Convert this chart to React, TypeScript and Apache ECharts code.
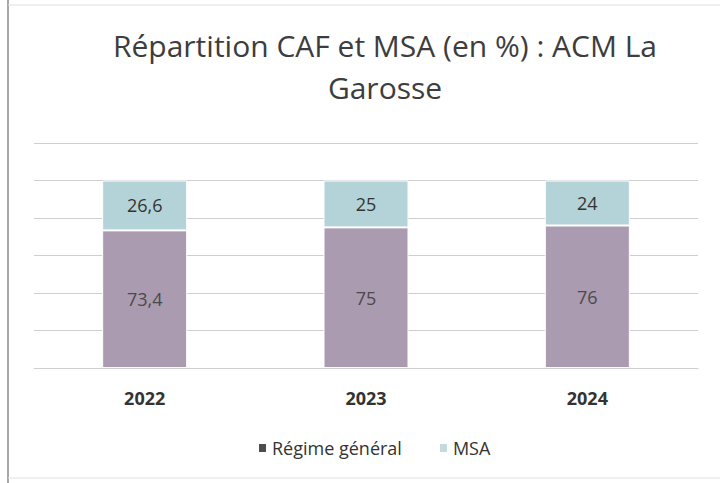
import React, { useEffect, useRef } from "react";
import * as echarts from "echarts";

const categories = ["2022", "2023", "2024"];
const regimeGeneral = [73.4, 75, 76];
const msa = [26.6, 25, 24];
const seriesNames = ["Régime général", "MSA"];
const titleText = "Répartition CAF et MSA (en %) : ACM La\nGarosse";

const fmt = (v: number) => String(v).replace(".", ",");

export default function App() {
  const ref = useRef<HTMLDivElement>(null);
  useEffect(() => {
    document.body.style.margin = "0";
    const chart = echarts.init(ref.current!, null, { renderer: "svg" });
    const font = "'Open Sans', 'Noto Sans', sans-serif";
    chart.setOption({
      animation: false,
      backgroundColor: "#ffffff",
      title: {
        text: titleText,
        left: 380,
        textAlign: "center",
        top: 19,
        textStyle: {
          fontFamily: font,
          fontSize: 30,
          fontWeight: "normal",
          color: "#3d3d3d",
          lineHeight: 42,
        },
      },
      grid: { left: 34, right: 22, top: 143, bottom: 115, containLabel: false },
      legend: {
        data: [
          { name: seriesNames[0], itemStyle: { color: "#4d4d4d" } },
          { name: seriesNames[1], itemStyle: { color: "#c5dadc" } },
        ],
        left: 252,
        top: 434,
        itemWidth: 9,
        itemHeight: 10,
        itemGap: 36,
        icon: "rect",
        textStyle: { fontFamily: font, fontSize: 18, color: "#333333" },
      },
      xAxis: {
        type: "category",
        data: categories,
        axisTick: { show: false },
        axisLine: { show: true, lineStyle: { color: "#cfcfcf" } },
        axisLabel: {
          margin: 21,
          fontFamily: font,
          fontSize: 18,
          fontWeight: "bold",
          color: "#333333",
        },
      },
      yAxis: {
        type: "value",
        min: 0,
        max: 120,
        interval: 20,
        axisLabel: { show: false },
        axisLine: { show: false },
        axisTick: { show: false },
        splitLine: { lineStyle: { color: "#cfcfcf", width: 1 } },
      },
      series: [
        {
          name: seriesNames[0],
          type: "bar",
          stack: "total",
          data: regimeGeneral,
          barWidth: 85,
          itemStyle: { color: "#ab9bb0", borderColor: "#ffffff", borderWidth: 1 },
          label: {
            show: true,
            position: "inside",
            formatter: (p: any) => fmt(p.value),
            fontFamily: font,
            fontSize: 18,
            color: "#4a4a4a",
          },
        },
        {
          name: seriesNames[1],
          type: "bar",
          stack: "total",
          data: msa,
          barWidth: 85,
          itemStyle: { color: "#b3d3d8", borderColor: "#ffffff", borderWidth: 1 },
          label: {
            show: true,
            position: "inside",
            formatter: (p: any) => fmt(p.value),
            fontFamily: font,
            fontSize: 18,
            color: "#333333",
          },
        },
      ],
      graphic: [
        { type: "line", shape: { x1: 8, y1: 0, x2: 8, y2: 483 }, style: { stroke: "#8a8a8a", lineWidth: 1.5 } },
        { type: "line", shape: { x1: 8, y1: 5, x2: 720, y2: 5 }, style: { stroke: "#e0e0e0", lineWidth: 1 } },
        { type: "line", shape: { x1: 8, y1: 478, x2: 720, y2: 478 }, style: { stroke: "#e0e0e0", lineWidth: 1 } },
      ],
    });
    return () => chart.dispose();
  }, []);
  return (
    <div
      ref={ref}
      style={{ position: "fixed", left: 0, top: 0, width: 720, height: 483 }}
    />
  );
}
